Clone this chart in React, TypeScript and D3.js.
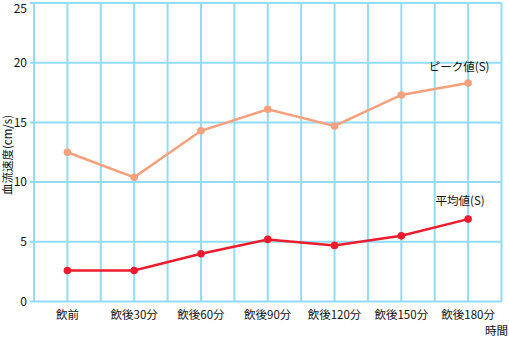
import React from "react";
import * as d3 from "d3";

const categories = ["飲前", "飲後30分", "飲後60分", "飲後90分", "飲後120分", "飲後150分", "飲後180分"];
const peakValues = [12.5, 10.4, 14.3, 16.1, 14.7, 17.3, 18.3];
const meanValues = [2.6, 2.6, 4.0, 5.2, 4.7, 5.5, 6.9];
const yTicks = [0, 5, 10, 15, 20, 25];
const seriesNames = ["ピーク値(S)", "平均値(S)"];

const W = 509, H = 338;
const left = 34, right = 501.5, top = 3, bottom = 301.5;
const FONT = "'Noto Sans CJK JP', 'Noto Sans', sans-serif";
const GRID = "#92dcf6";

export default function App() {
  const x = d3.scaleLinear().domain([-0.5, categories.length - 0.5]).range([left, right]);
  const y = d3.scaleLinear().domain([0, 25]).range([bottom, top]);
  const line = d3.line<number>().x((_, i) => x(i)).y((d) => y(d));
  const vLines = d3.range(-0.5, categories.length - 0.49, 0.5);

  return (
    <svg width={W} height={H} style={{ position: "absolute", left: 0, top: 0 }} fontFamily={FONT}>
      <rect width={W} height={H} fill="#fff" />
      {vLines.map((v, i) => (
        <line key={"v" + i} x1={x(v)} x2={x(v)} y1={y(25)} y2={y(0)} stroke={GRID} strokeWidth={2} />
      ))}
      {yTicks.map((t) => (
        <line key={"h" + t} x1={left - 4} x2={right} y1={y(t)} y2={y(t)} stroke={GRID} strokeWidth={2} />
      ))}
      {yTicks.map((t) => (
        <text key={"yt" + t} x={27} y={Math.max(y(t) + 4.2, 13)} textAnchor="end" fontSize={12} fill="#111">{t}</text>
      ))}
      <text transform={`translate(12,155) rotate(-90)`} textAnchor="middle" fontSize={11.5} fill="#111">血流速度(cm/s)</text>
      {categories.map((c, i) => (
        <text key={c} x={x(i)} y={319} textAnchor="middle" fontSize={11.5} fill="#111">{c}</text>
      ))}
      <text x={508} y={335} textAnchor="end" fontSize={11.5} fill="#111">時間</text>

      <path d={line(peakValues) || ""} fill="none" stroke="#f4a07c" strokeWidth={2.5} />
      {peakValues.map((v, i) => (
        <circle key={"p" + i} cx={x(i)} cy={y(v)} r={3.8} fill="#f4a07c" />
      ))}
      <path d={line(meanValues) || ""} fill="none" stroke="#ec1c2e" strokeWidth={2.5} />
      {meanValues.map((v, i) => (
        <circle key={"m" + i} cx={x(i)} cy={y(v)} r={3.8} fill="#ec1c2e" />
      ))}
      <text x={x(6) - 9} y={y(peakValues[6]) - 12} textAnchor="middle" fontSize={11.5} fill="#111">{seriesNames[0]}</text>
      <text x={x(6) - 8} y={y(meanValues[6]) - 14} textAnchor="middle" fontSize={11.5} fill="#111">{seriesNames[1]}</text>
    </svg>
  );
}
